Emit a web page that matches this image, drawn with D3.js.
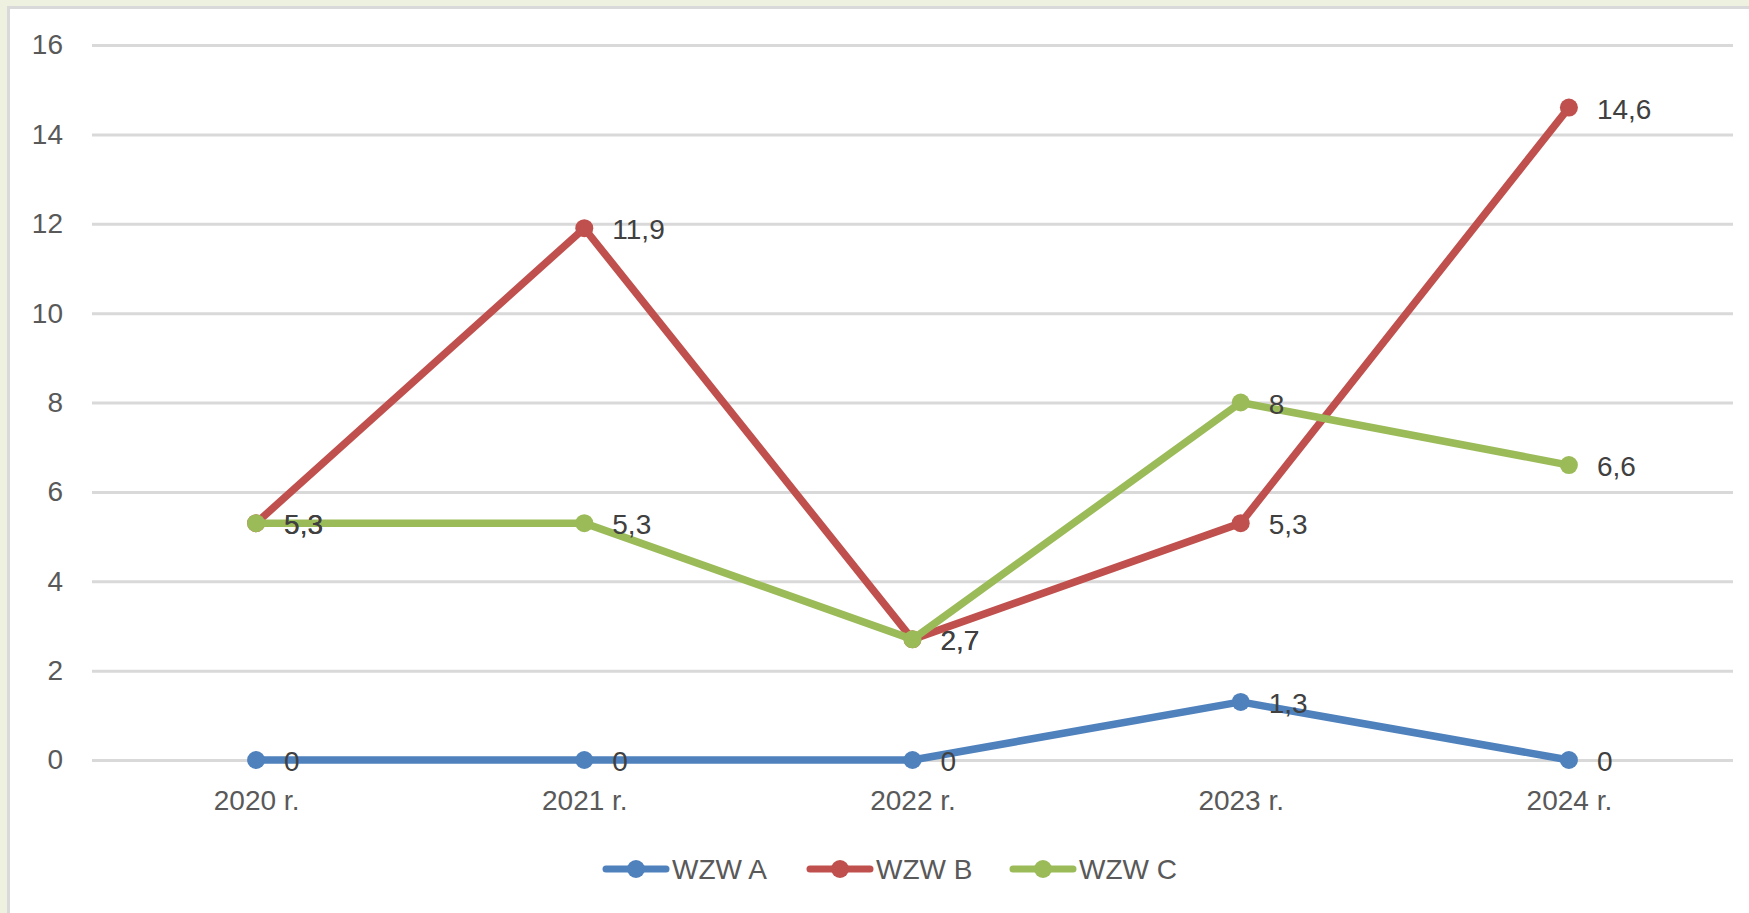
<!DOCTYPE html>
<html>
<head>
<meta charset="utf-8">
<script src="https://cdn.jsdelivr.net/npm/d3@7"></script>
<style>
  html, body { margin: 0; padding: 0; background: #eef1df; }
  #wrapper { width: 1749px; height: 913px; overflow: hidden; }
</style>
</head>
<body>
<div id="wrapper"></div>
<script>
const categories = ["2020 r.", "2021 r.", "2022 r.", "2023 r.", "2024 r."];
const seriesNames = ["WZW A", "WZW B", "WZW C"];
const wzwA = [0, 0, 0, 1.3, 0];
const wzwB = [5.3, 11.9, 2.7, 5.3, 14.6];
const wzwC = [5.3, 5.3, 2.7, 8, 6.6];
const yTicks = [0, 2, 4, 6, 8, 10, 12, 14, 16];
const colors = ["#4f81bd", "#c0504d", "#9bbb59"];

const seriesValues = [wzwA, wzwB, wzwC];

var dimension = {
    width: 1749,
    height: 913,
    margin: { top: 45, left: 92, bottom: 153, right: 16 }
};
dimension.boundedWidth = dimension.width - dimension.margin.left - dimension.margin.right;
dimension.boundedHeight = dimension.height - dimension.margin.top - dimension.margin.bottom;

const svg = d3.select("#wrapper").append("svg")
    .attr("width", dimension.width)
    .attr("height", dimension.height)
    .style("font-family", "'Liberation Sans', Arial, sans-serif");

// white chart area with grey border
svg.append("rect")
    .attr("x", 8.5).attr("y", 7.5)
    .attr("width", 1760).attr("height", 920)
    .attr("fill", "#ffffff")
    .attr("stroke", "#d9d9d9")
    .attr("stroke-width", 3);

const bounded = svg.append("g")
    .attr("transform", `translate(${dimension.margin.left},${dimension.margin.top})`);

const xScaler = d3.scalePoint()
    .domain(categories)
    .range([0, dimension.boundedWidth])
    .padding(0.5);

const yScaler = d3.scaleLinear()
    .domain([0, 16])
    .range([dimension.boundedHeight, 0]);

// gridlines + y labels
const yAxis = d3.axisLeft(yScaler)
    .tickValues(yTicks)
    .tickSize(-dimension.boundedWidth)
    .tickPadding(29)
    .tickFormat(d3.format("d"));
const gy = bounded.append("g").call(yAxis);
gy.select(".domain").remove();
gy.selectAll(".tick line").attr("stroke", "#d9d9d9").attr("stroke-width", 3);
gy.selectAll(".tick text").attr("fill", "#595959").style("font-size", "28px");

// x labels
const xAxis = d3.axisBottom(xScaler).tickSize(0).tickPadding(30);
const gx = bounded.append("g")
    .attr("transform", `translate(0,${dimension.boundedHeight})`)
    .call(xAxis);
gx.select(".domain").remove();
gx.selectAll(".tick text").attr("fill", "#595959").style("font-size", "28px");

const lineGenerator = d3.line()
    .x((d, i) => xScaler(categories[i]))
    .y(d => yScaler(d));

seriesValues.forEach((vals, s) => {
    const g = bounded.append("g");
    g.append("path")
        .attr("d", lineGenerator(vals))
        .attr("fill", "none")
        .attr("stroke", colors[s])
        .attr("stroke-width", 7.5)
        .attr("stroke-linejoin", "round")
        .attr("stroke-linecap", "round");
    g.selectAll("circle").data(vals).join("circle")
        .attr("cx", (d, i) => xScaler(categories[i]))
        .attr("cy", d => yScaler(d))
        .attr("r", 9)
        .attr("fill", colors[s]);
});

// data labels
seriesValues.forEach((vals, s) => {
    bounded.append("g").selectAll("text").data(vals).join("text")
        .attr("x", (d, i) => xScaler(categories[i]) + 28)
        .attr("y", d => yScaler(d) + 11)
        .attr("fill", "#404040")
        .style("font-size", "28px")
        .text(d => String(d).replace(".", ","));
});

// legend
const legendX = [606, 810, 1013];
const legendY = 869;
const legend = svg.append("g");
seriesNames.forEach((name, s) => {
    const item = legend.append("g").attr("transform", `translate(${legendX[s]},${legendY})`);
    item.append("line")
        .attr("x1", 0).attr("x2", 60)
        .attr("stroke", colors[s]).attr("stroke-width", 7)
        .attr("stroke-linecap", "round");
    item.append("circle").attr("cx", 30).attr("r", 9).attr("fill", colors[s]);
    item.append("text")
        .attr("x", 66).attr("y", 10)
        .attr("fill", "#595959")
        .style("font-size", "28px")
        .text(name);
});
</script>
</body>
</html>
